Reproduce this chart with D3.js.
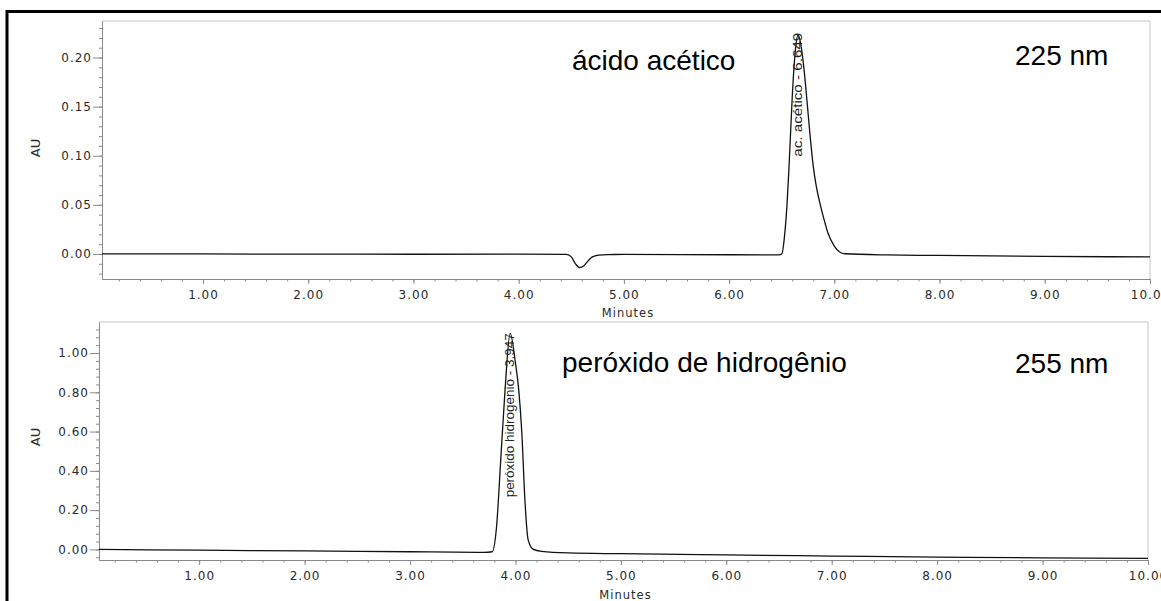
<!DOCTYPE html>
<html>
<head>
<meta charset="utf-8">
<script src="https://cdn.jsdelivr.net/npm/d3@7"></script>
<style>
  body { margin: 0; background: #fff; }
  .tick text { font-family: 'DejaVu Sans', sans-serif; font-size: 12px; letter-spacing: 1px; fill: #2a2a2a; }
  .axis path, .axis line { stroke: #8a8a8a; }
</style>
</head>
<body>
<div id="chart"></div>
<script>
// chromatogram 1 - 225 nm (acetic acid)
var topTime = [0.04, 1.0, 2.0, 3.0, 4.0, 4.45, 4.50, 4.54, 4.58, 4.62, 4.66, 4.70, 4.76, 4.85, 5.0, 6.0, 6.47,
  6.50, 6.53, 6.55, 6.57, 6.60, 6.63, 6.655, 6.68, 6.71, 6.74, 6.77, 6.80, 6.83, 6.86, 6.90, 6.94, 7.00, 7.05, 7.10,
  7.5, 8.0, 9.0, 10.0]
var topAU = [0.000, 0.000, -0.0002, -0.0003, -0.0002, -0.0004, -0.003, -0.010, -0.014, -0.012, -0.007, -0.003, -0.0012, -0.0006, -0.0005, -0.0008, -0.0009,
  0.000, 0.022, 0.050, 0.090, 0.160, 0.208, 0.223, 0.214, 0.190, 0.156, 0.120, 0.089, 0.068, 0.053, 0.036, 0.021, 0.008, 0.002, 0.0002,
  -0.0010, -0.0015, -0.0025, -0.0030]

// chromatogram 2 - 255 nm (hydrogen peroxide)
var botTime = [0.05, 1.0, 2.0, 3.0, 3.70, 3.78, 3.82, 3.86, 3.90, 3.95, 4.00, 4.03, 4.06, 4.09, 4.12, 4.17, 4.25, 4.5, 5.0, 6.0, 7.0, 8.0, 9.0, 10.0]
var botAU = [0.000, -0.004, -0.008, -0.012, -0.015, -0.012, 0.11, 0.45, 0.80, 1.10, 0.95, 0.82, 0.60, 0.25, 0.05, 0.000, -0.010, -0.018, -0.022, -0.028, -0.034, -0.039, -0.043, -0.046]

var xMajor = [1, 2, 3, 4, 5, 6, 7, 8, 9, 10]
var yMajorTop = [0, 0.05, 0.10, 0.15, 0.20]
var yMajorBot = [0, 0.20, 0.40, 0.60, 0.80, 1.00]

var peakNames = ['ac. acético - 6.649', 'peróxido hidrogenio - 3.947']
var peakTimes = [6.649, 3.947]
var compounds = ['ácido acético', 'peróxido de hidrogênio']
var wavelengths = ['225 nm', '255 nm']

var width = 1161, height = 601
var fmt = d3.format('.2f')

var svg = d3.select('#chart')
  .append('svg')
    .attr('width', width)
    .attr('height', height)

// outer black frame (runs off the right and bottom edges)
svg.append('rect')
  .attr('x', 7)
  .attr('y', 11.5)
  .attr('width', 1300)
  .attr('height', 800)
  .attr('fill', 'none')
  .attr('stroke', '#000')
  .attr('stroke-width', 3)

var panels = [
  { time: topTime, au: topAU, yMajor: yMajorTop, yMinorStep: 0.01, yMin: -0.0255, yMax: 0.2372,
    x0: 102, x1: 1150, xd0: 0.04, top: 21, bottom: 279, labelAt: 0.099, labelLen: 124,
    compX: 572, compY: 70, nmY: 65, minY: 317, auY: 148 },
  { time: botTime, au: botAU, yMajor: yMajorBot, yMinorStep: 0.04, yMin: -0.054, yMax: 1.158,
    x0: 99, x1: 1148, xd0: 0.05, top: 322, bottom: 560, labelAt: 0.265, labelLen: 164,
    compX: 562, compY: 372, nmY: 373, minY: 599, auY: 437 }
]

panels.forEach(function(p, i) {
  var x = d3.scaleLinear().domain([p.xd0, 10]).range([p.x0, p.x1])
  var y = d3.scaleLinear().domain([p.yMin, p.yMax]).range([p.bottom, p.top])
  var g = svg.append('g')

  // light frame of the plot area
  g.append('path')
    .attr('d', 'M' + p.x0 + ',' + p.top + 'H' + p.x1 + 'V' + p.bottom)
    .attr('fill', 'none')
    .attr('stroke', '#c4c4c4')

  var yMinor = d3.range(Math.ceil(p.yMin / p.yMinorStep), Math.floor(p.yMax / p.yMinorStep) + 1)
    .map(function(k) { return k * p.yMinorStep })

  g.append('g')
    .attr('class', 'axis')
    .attr('transform', 'translate(' + p.x0 + ',0)')
    .call(d3.axisLeft(y).tickValues(yMinor).tickSize(3).tickSizeOuter(0).tickFormat(''))
  g.append('g')
    .attr('class', 'axis')
    .attr('transform', 'translate(' + p.x0 + ',0)')
    .call(d3.axisLeft(y).tickValues(p.yMajor).tickSize(9).tickPadding(1).tickSizeOuter(0).tickFormat(fmt))

  var xMinor = d3.range(1, 50).map(function(k) { return k * 0.2 })
  g.append('g')
    .attr('class', 'axis')
    .attr('transform', 'translate(0,' + p.bottom + ')')
    .call(d3.axisBottom(x).tickValues(xMinor).tickSize(2.5).tickSizeOuter(0).tickFormat(''))
  g.append('g')
    .attr('class', 'axis')
    .attr('transform', 'translate(0,' + p.bottom + ')')
    .call(d3.axisBottom(x).tickValues(xMajor).tickSize(5).tickPadding(6).tickSizeOuter(0).tickFormat(fmt))

  g.append('text')
    .attr('x', (p.x0 + p.x1) / 2 + 2)
    .attr('y', p.minY)
    .attr('text-anchor', 'middle')
    .style('font', '11.5px "DejaVu Sans", sans-serif')
    .style('letter-spacing', '1px')
    .attr('fill', '#2a2a2a')
    .text('Minutes')

  g.append('text')
    .attr('transform', 'translate(35,' + p.auY + ') rotate(-90)')
    .attr('text-anchor', 'middle')
    .attr('dy', '0.35em')
    .style('font', '13px "DejaVu Sans", sans-serif')
    .attr('fill', '#2a2a2a')
    .text('AU')

  var line = d3.line()
    .curve(d3.curveMonotoneX)
    .x(function(d) { return x(d[0]) })
    .y(function(d) { return y(d[1]) })

  g.append('path')
    .datum(d3.zip(p.time, p.au))
    .attr('d', line)
    .attr('fill', 'none')
    .attr('stroke', '#111')
    .attr('stroke-width', 1.3)

  // peak label, rotated along the peak
  g.append('text')
    .attr('transform', 'translate(' + x(peakTimes[i]) + ',' + y(p.labelAt) + ') rotate(-90)')
    .attr('dy', '0.35em')
    .attr('textLength', p.labelLen)
    .attr('lengthAdjust', 'spacingAndGlyphs')
    .style('font', '13px "Liberation Sans", Arial, sans-serif')
    .attr('fill', '#222')
    .text(peakNames[i])

  g.append('text')
    .attr('x', p.compX)
    .attr('y', p.compY)
    .style('font', '28px "Liberation Sans", Arial, sans-serif')
    .attr('fill', '#000')
    .text(compounds[i])

  g.append('text')
    .attr('x', 1015)
    .attr('y', p.nmY)
    .style('font', '28px "Liberation Sans", Arial, sans-serif')
    .attr('fill', '#000')
    .text(wavelengths[i])
})
</script>
</body>
</html>
